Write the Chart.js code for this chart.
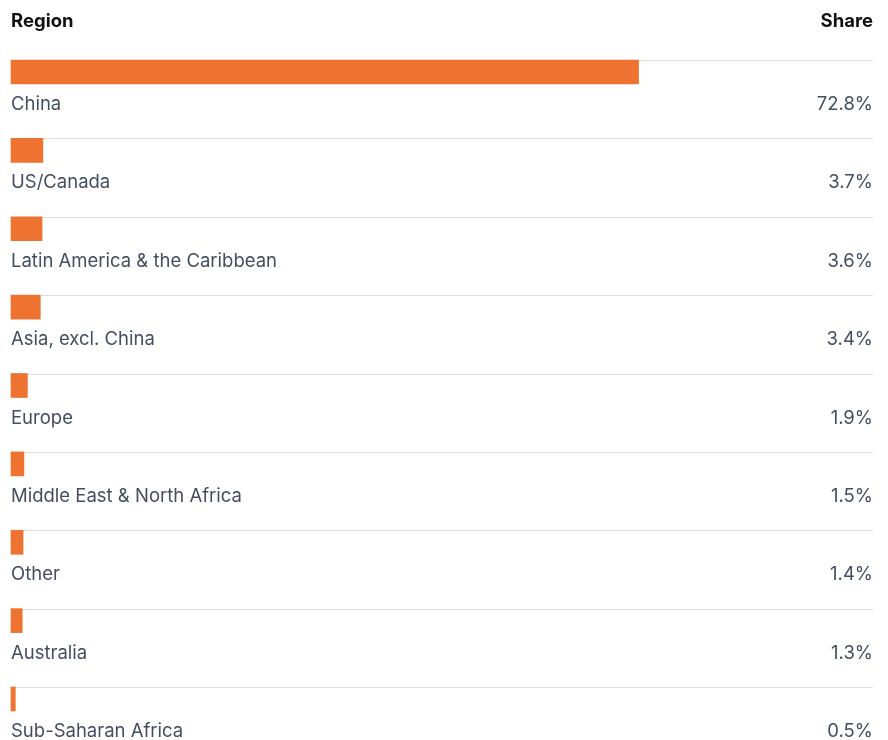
<!DOCTYPE html>
<html>
<head>
<meta charset="utf-8">
<script src="https://cdn.jsdelivr.net/npm/chart.js@4/dist/chart.umd.min.js"></script>
<style>
  html, body { margin: 0; padding: 0; background: #ffffff; overflow: hidden; }
  canvas { display: block; }
</style>
</head>
<body>
<canvas id="chart" width="888" height="740"></canvas>
<script>
// Share by region
const regions = [
  'China',
  'US/Canada',
  'Latin America & the Caribbean',
  'Asia, excl. China',
  'Europe',
  'Middle East & North Africa',
  'Other',
  'Australia',
  'Sub-Saharan Africa'
];
const shares = [72.8, 3.7, 3.6, 3.4, 1.9, 1.5, 1.4, 1.3, 0.5];
const headers = ['Region', 'Share'];

const FONT = 'Inter, "Noto Sans", sans-serif';
const BAR_COLOR = '#ee7230';
const TEXT_COLOR = '#434e5f';
const RULE_COLOR = '#dcdcdc';
const BAR_THICKNESS = 24;

// Row rules, category labels, value labels and column headers
const tableText = {
  id: 'tableText',
  beforeDatasetsDraw(chart) {
    const { ctx, chartArea, scales } = chart;
    ctx.save();
    ctx.strokeStyle = RULE_COLOR;
    ctx.lineWidth = 1;
    regions.forEach((_, i) => {
      const y = Math.round(scales.y.getPixelForValue(i) - BAR_THICKNESS / 2) + 0.5;
      ctx.beginPath();
      ctx.moveTo(chartArea.left, y);
      ctx.lineTo(chartArea.right, y);
      ctx.stroke();
    });
    ctx.restore();
  },
  afterDatasetsDraw(chart) {
    const { ctx, chartArea, scales } = chart;
    ctx.save();
    ctx.textBaseline = 'middle';

    ctx.fillStyle = '#111111';
    ctx.font = 'bold 18.5px ' + FONT;
    ctx.textAlign = 'left';
    ctx.fillText(headers[0], chartArea.left, 21.5);
    ctx.textAlign = 'right';
    ctx.fillText(headers[1], chartArea.right, 21.5);

    ctx.fillStyle = TEXT_COLOR;
    ctx.font = '18.5px ' + FONT;
    regions.forEach((name, i) => {
      const y = scales.y.getPixelForValue(i) + 32.5;
      ctx.textAlign = 'left';
      ctx.fillText(name, chartArea.left, y);
      ctx.textAlign = 'right';
      ctx.fillText(shares[i].toFixed(1) + '%', chartArea.right, y);
    });
    ctx.restore();
  }
};

new Chart(document.getElementById('chart'), {
  type: 'bar',
  data: {
    labels: regions,
    datasets: [{
      data: shares,
      backgroundColor: BAR_COLOR,
      borderWidth: 0,
      barThickness: BAR_THICKNESS,
      clip: false
    }]
  },
  options: {
    indexAxis: 'y',
    responsive: false,
    animation: false,
    layout: { padding: { left: 11, right: 15, top: 72, bottom: 41 } },
    scales: {
      x: { type: 'linear', min: 0, max: 100, display: false },
      y: { type: 'category', offset: false, display: false }
    },
    plugins: {
      legend: { display: false },
      tooltip: { enabled: false }
    }
  },
  plugins: [tableText]
});
</script>
</body>
</html>
